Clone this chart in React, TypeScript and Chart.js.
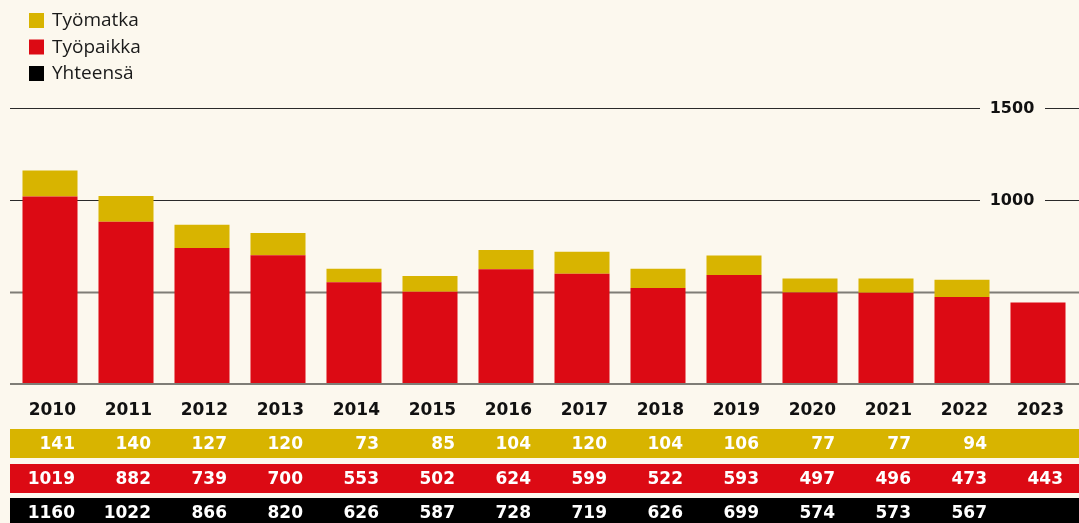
import React, { useEffect, useRef } from 'react';
import { Chart, registerables } from 'chart.js';

Chart.register(...registerables);

const years = ['2010', '2011', '2012', '2013', '2014', '2015', '2016', '2017', '2018', '2019', '2020', '2021', '2022', '2023'];
const tyomatka: (number | null)[] = [141, 140, 127, 120, 73, 85, 104, 120, 104, 106, 77, 77, 94, null];
const tyopaikka: (number | null)[] = [1019, 882, 739, 700, 553, 502, 624, 599, 522, 593, 497, 496, 473, 443];
const yhteensa: (number | null)[] = [1160, 1022, 866, 820, 626, 587, 728, 719, 626, 699, 574, 573, 567, null];

const seriesNames = ['Työmatka', 'Työpaikka', 'Yhteensä'];
const yTickValues = [0, 500, 1000, 1500];
const yTickLabels = ['', '', '1000', '1500'];

const BG = '#fcf8ee';
const YELLOW = '#d8b400';
const RED = '#dc0a14';
const BLACK = '#000000';
const seriesColors = [YELLOW, RED, BLACK];

const overlay = {
  id: 'overlay',
  beforeDraw(chart: any) {
    const { ctx, width, height } = chart;
    ctx.save();
    ctx.fillStyle = BG;
    ctx.fillRect(0, 0, width, height);
    ctx.restore();
  },
  beforeDatasetsDraw(chart: any) {
    const { ctx, width } = chart;
    const y = chart.scales.y;
    ctx.save();
    yTickValues.forEach((v) => {
      if (v === 0) return;
      const py = Math.round(y.getPixelForValue(v));
      ctx.beginPath();
      if (v === 500) {
        ctx.strokeStyle = '#7f7d76';
        ctx.lineWidth = 2;
        ctx.moveTo(10, py + 0.5);
        ctx.lineTo(width, py + 0.5);
      } else {
        ctx.strokeStyle = '#2a2a2a';
        ctx.lineWidth = 1.2;
        ctx.moveTo(10, py + 0.5);
        ctx.lineTo(width, py + 0.5);
      }
      ctx.stroke();
    });
    ctx.restore();
  },
  afterDatasetsDraw(chart: any) {
    const { ctx, width } = chart;
    const x = chart.scales.x;
    const y = chart.scales.y;
    ctx.save();
    // baseline
    const p0 = Math.round(y.getPixelForValue(0));
    ctx.beginPath();
    ctx.strokeStyle = '#7f7d76';
    ctx.lineWidth = 2;
    ctx.moveTo(10, p0);
    ctx.lineTo(width, p0);
    ctx.stroke();

    // y tick labels with gap
    ctx.font = 'bold 16px "DejaVu Sans"';
    ctx.textAlign = 'center';
    ctx.textBaseline = 'middle';
    yTickValues.forEach((v, i) => {
      const label = yTickLabels[i];
      if (!label) return;
      const py = y.getPixelForValue(v);
      ctx.fillStyle = BG;
      ctx.fillRect(980, py - 4, 65, 8);
      ctx.fillStyle = '#111111';
      ctx.fillText(label, 1012, py + 1);
    });

    // years
    ctx.font = 'bold 17px "DejaVu Sans"';
    ctx.textAlign = 'right';
    ctx.fillStyle = '#111111';
    years.forEach((yr, i) => {
      const px = x.getPixelForValue(i);
      ctx.fillText(yr, px + 26, 411);
    });

    // table bands
    const bands = [
      { color: YELLOW, top: 429, h: 29, values: tyomatka },
      { color: RED, top: 464, h: 29, values: tyopaikka },
      { color: BLACK, top: 498, h: 32, values: yhteensa },
    ];
    bands.forEach((b, bi) => {
      ctx.fillStyle = b.color;
      ctx.fillRect(10, b.top, width - 10, b.h);
      ctx.font = 'bold 17px "DejaVu Sans"';
      ctx.fillStyle = '#ffffff';
      ctx.textAlign = 'right';
      ctx.textBaseline = 'middle';
      const cy = bi === 0 ? 445 : bi === 1 ? 480 : 514;
      b.values.forEach((v, i) => {
        if (v === null || v === undefined) return;
        const px = x.getPixelForValue(i);
        ctx.fillText(String(v), px + 25, cy);
      });
    });

    // legend
    ctx.font = '19px "Open Sans"';
    ctx.textAlign = 'left';
    ctx.textBaseline = 'middle';
    seriesNames.forEach((name, i) => {
      const cy = 20.5 + i * 26.5;
      ctx.fillStyle = seriesColors[i];
      ctx.fillRect(29, cy - 7.5, 15, 15);
      ctx.fillStyle = '#1a1a1a';
      ctx.fillText(name, 52, cy + 0.5);
    });
    ctx.restore();
  },
};

export default function App() {
  const ref = useRef<HTMLCanvasElement>(null);
  useEffect(() => {
    document.body.style.margin = '0';
    document.body.style.background = BG;
    const chart = new Chart(ref.current!, {
      type: 'bar',
      data: {
        labels: years,
        datasets: [
          { label: seriesNames[1], data: tyopaikka, backgroundColor: RED, barPercentage: 0.724, categoryPercentage: 1 },
          { label: seriesNames[0], data: tyomatka, backgroundColor: YELLOW, barPercentage: 0.724, categoryPercentage: 1 },
        ],
      },
      options: {
        responsive: false,
        animation: false,
        layout: { padding: { top: 108, bottom: 139, left: 12, right: 3 } },
        plugins: { legend: { display: false }, tooltip: { enabled: false } },
        scales: {
          x: { stacked: true, display: false },
          y: { stacked: true, display: false, min: 0, max: 1500 },
        },
      },
      plugins: [overlay],
    });
    return () => chart.destroy();
  }, []);
  return (
    <div style={{ width: 1079, height: 523 }}>
      <canvas ref={ref} width={1079} height={523} />
    </div>
  );
}
